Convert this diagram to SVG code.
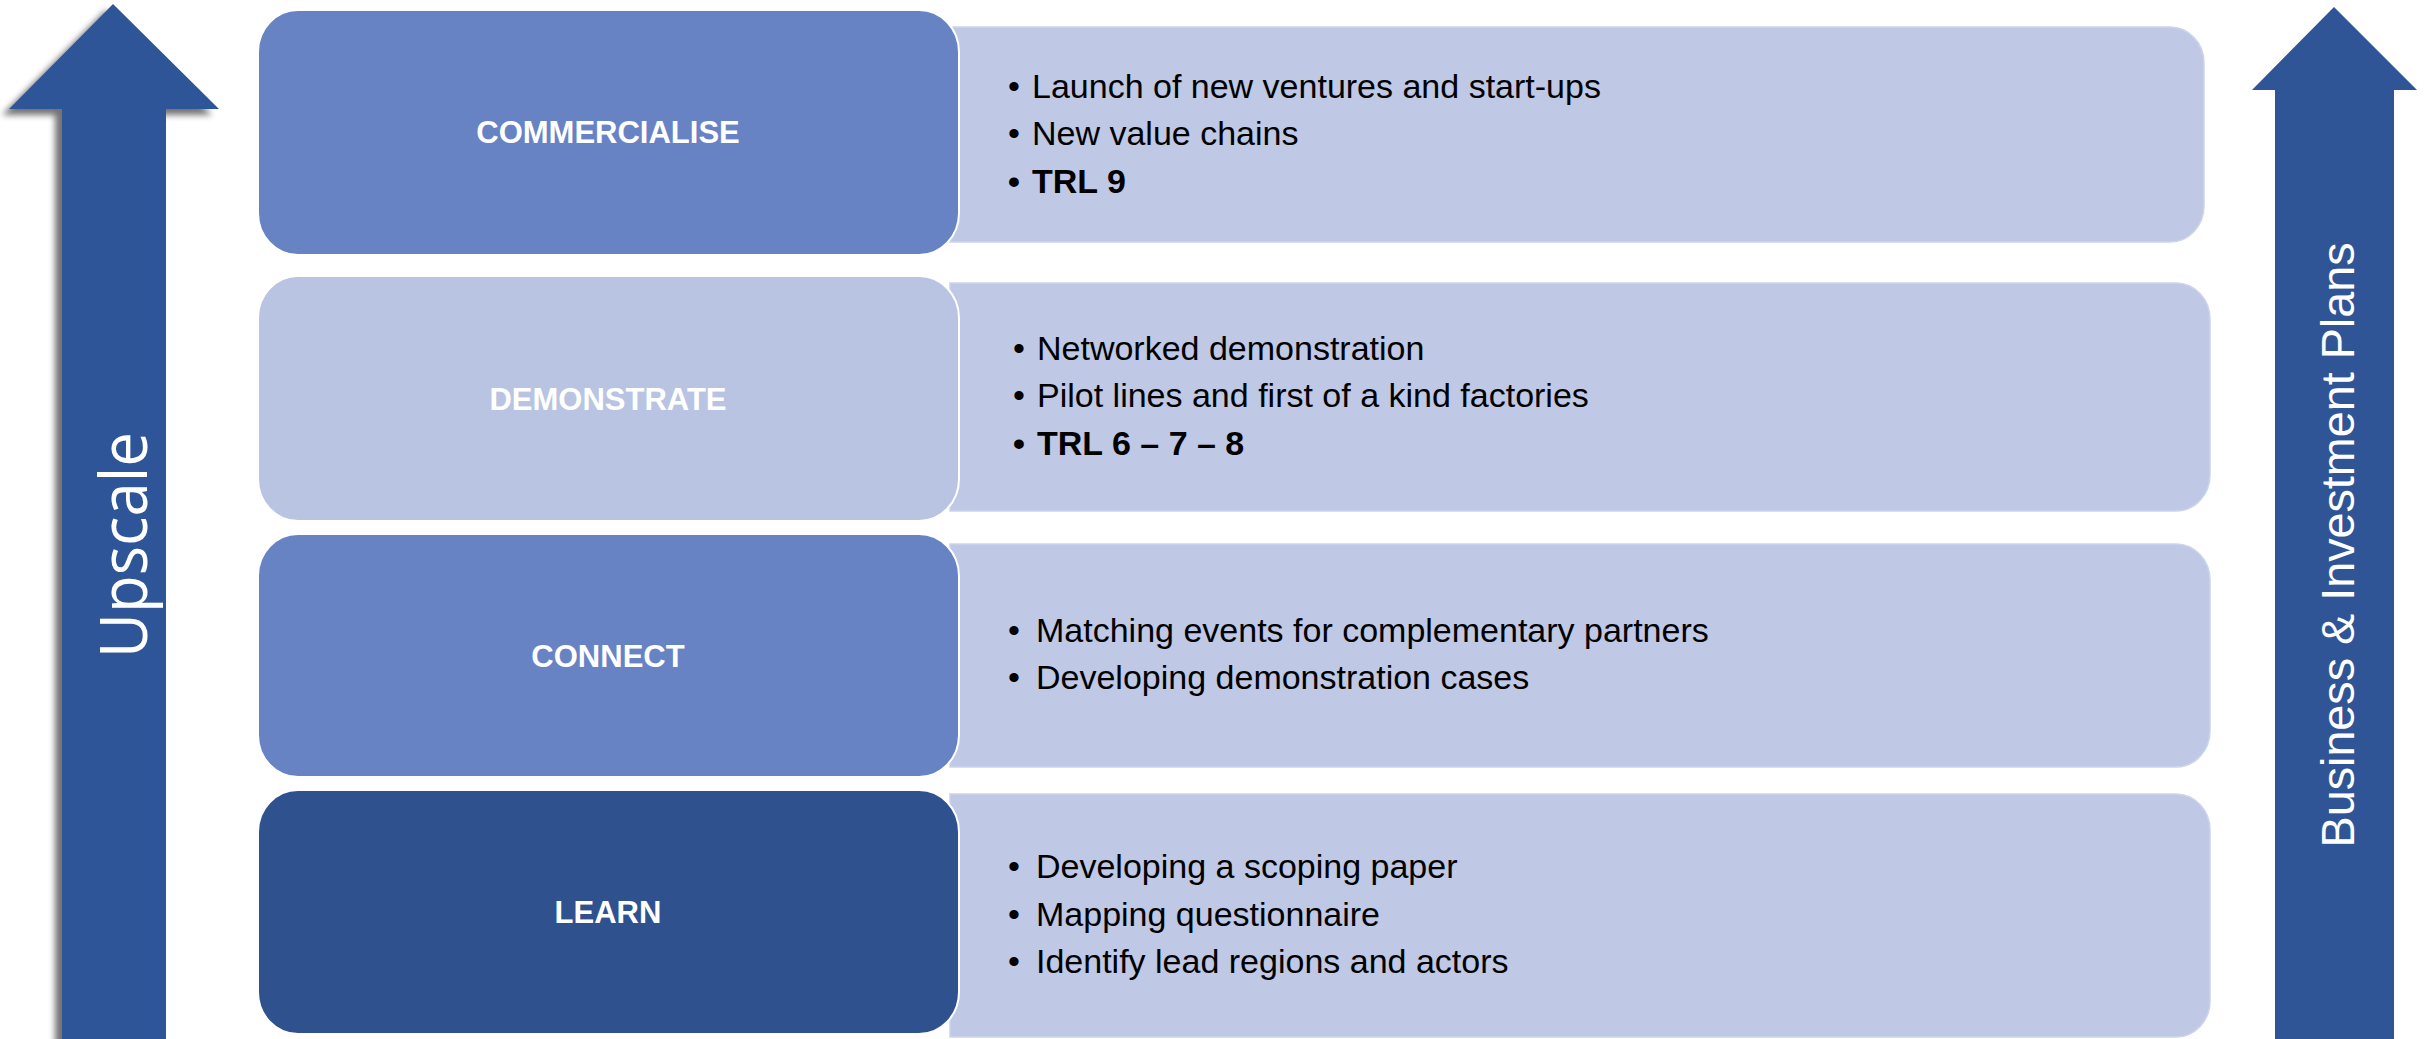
<svg xmlns="http://www.w3.org/2000/svg" width="2432" height="1039" viewBox="0 0 2432 1039">
<defs>
  <filter id="shadow" x="-30%" y="-5%" width="160%" height="110%">
    <feGaussianBlur in="SourceAlpha" stdDeviation="3"/>
    <feOffset dx="-7" dy="6" result="b"/>
    <feComponentTransfer><feFuncA type="linear" slope="0.55"/></feComponentTransfer>
    <feMerge><feMergeNode/><feMergeNode in="SourceGraphic"/></feMerge>
  </filter>
</defs>
<style>
  .detail { fill: #BFC8E4; stroke: #CDD4EB; stroke-width: 1.5; }
  .stage { stroke: #FFFFFF; stroke-width: 2; }
  .mid { fill: #6783C4; }
  .light { fill: #B8C4E2; }
  .dark { fill: #2F528F; }
  .label { font-family: "Liberation Sans", Arial, sans-serif; font-weight: bold; font-size: 31px; fill: #FFFFFF; text-anchor: middle; }
  .body { font-family: "Liberation Sans", Arial, sans-serif; font-size: 34px; fill: #000000; }
  .b { font-weight: bold; }
  .arrow { fill: #2F5597; }
  .atext { fill: #FFFFFF; text-anchor: middle; }
</style>
<rect width="2432" height="1039" fill="#FFFFFF"/>

<g id="arrows">
  <g id="arrow-upscale">
    <polygon class="arrow" filter="url(#shadow)" points="113,4 219,109 166,109 166,1045 62,1045 62,109 9,109"/>
    <text class="atext" transform="translate(147,545) rotate(-90)" font-family="'Open Sans', 'Liberation Sans', sans-serif" font-size="66" textLength="226" lengthAdjust="spacingAndGlyphs">Upscale</text>
  </g>
  <g id="arrow-business">
    <polygon class="arrow" points="2334,7 2417,90 2394,90 2394,1045 2275,1045 2275,90 2252,90"/>
    <text class="atext" transform="translate(2354,545) rotate(-90)" font-family="'Liberation Sans', Arial, sans-serif" font-size="47" textLength="605" lengthAdjust="spacingAndGlyphs">Business &amp; Investment Plans</text>
  </g>
</g>

<g id="details">
  <g id="detail-commercialise">
    <path class="detail" d="M948,27 H2170 A34,36 0 0 1 2204,63 V206 A34,36 0 0 1 2170,242 H948 Z"/>
    <text class="body"><tspan x="1008" y="98">•</tspan><tspan x="1032" y="98">Launch of new ventures and start-ups</tspan></text>
    <text class="body"><tspan x="1008" y="145">•</tspan><tspan x="1032" y="145">New value chains</tspan></text>
    <text class="body b"><tspan x="1008" y="193">•</tspan><tspan x="1032" y="193">TRL 9</tspan></text>
  </g>
  <g id="detail-demonstrate">
    <path class="detail" d="M950,283 H2176 A34,36 0 0 1 2210,319 V475 A34,36 0 0 1 2176,511 H950 Z"/>
    <text class="body"><tspan x="1013" y="360">•</tspan><tspan x="1037" y="360">Networked demonstration</tspan></text>
    <text class="body"><tspan x="1013" y="407">•</tspan><tspan x="1037" y="407">Pilot lines and first of a kind factories</tspan></text>
    <text class="body b"><tspan x="1013" y="455">•</tspan><tspan x="1037" y="455">TRL 6 – 7 – 8</tspan></text>
  </g>
  <g id="detail-connect">
    <path class="detail" d="M950,544 H2176 A34,36 0 0 1 2210,580 V731 A34,36 0 0 1 2176,767 H950 Z"/>
    <text class="body"><tspan x="1008" y="642">•</tspan><tspan x="1036" y="642">Matching events for complementary partners</tspan></text>
    <text class="body"><tspan x="1008" y="689">•</tspan><tspan x="1036" y="689">Developing demonstration cases</tspan></text>
  </g>
  <g id="detail-learn">
    <path class="detail" d="M950,794 H2176 A34,36 0 0 1 2210,830 V1001 A34,36 0 0 1 2176,1037 H950 Z"/>
    <text class="body"><tspan x="1008" y="878">•</tspan><tspan x="1036" y="878">Developing a scoping paper</tspan></text>
    <text class="body"><tspan x="1008" y="926">•</tspan><tspan x="1036" y="926">Mapping questionnaire</tspan></text>
    <text class="body"><tspan x="1008" y="973">•</tspan><tspan x="1036" y="973">Identify lead regions and actors</tspan></text>
  </g>
</g>

<g id="stages">
  <g id="stage-commercialise">
    <rect class="stage mid" x="258" y="10" width="701" height="245" rx="40" ry="42"/>
    <text class="label" x="608" y="143">COMMERCIALISE</text>
  </g>
  <g id="stage-demonstrate">
    <rect class="stage light" x="258" y="276" width="701" height="245" rx="40" ry="42"/>
    <text class="label" x="608" y="410">DEMONSTRATE</text>
  </g>
  <g id="stage-connect">
    <rect class="stage mid" x="258" y="534" width="701" height="243" rx="40" ry="42"/>
    <text class="label" x="608" y="667">CONNECT</text>
  </g>
  <g id="stage-learn">
    <rect class="stage dark" x="258" y="790" width="701" height="244" rx="40" ry="42"/>
    <text class="label" x="608" y="923">LEARN</text>
  </g>
</g>
</svg>
